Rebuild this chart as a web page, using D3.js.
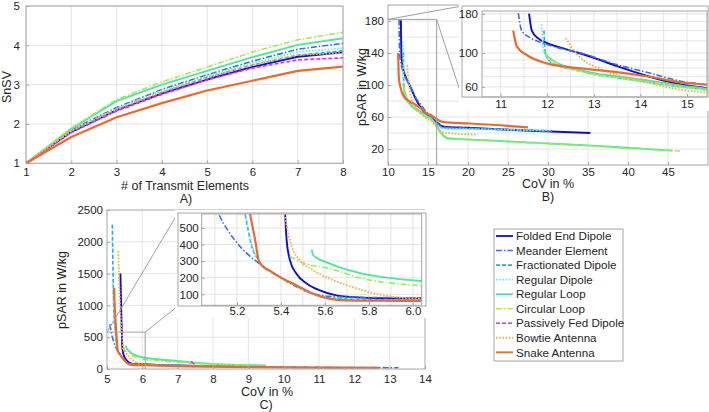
<!DOCTYPE html>
<html><head><meta charset="utf-8">
<script src="https://cdn.jsdelivr.net/npm/d3@7"></script>
<style>
body{margin:0;background:#fff}
svg{display:block}
text{font-family:"Liberation Sans",Arial,Helvetica,sans-serif;fill:#262626}
</style>
</head><body>
<svg id="c" width="709" height="412"></svg>
<script>
// ---------- DATA ----------
const names = ["Folded End Dipole","Meander Element","Fractionated Dipole","Regular Dipole","Regular Loop","Circular Loop","Passively Fed Dipole","Bowtie Antenna","Snake Antenna"];
const transmitElements = [1,2,3,4,5,6,7,8];

// Panel A: SnSV vs # of transmit elements
const snsvFolded   = [1,1.80,2.35,2.78,3.13,3.45,3.71,3.82];
const snsvMeander  = [1,1.85,2.42,2.88,3.25,3.60,3.90,4.05];
const snsvFraction = [1,1.82,2.35,2.80,3.18,3.50,3.75,3.86];
const snsvRegDip   = [1,1.83,2.40,2.85,3.22,3.55,3.83,3.93];
const snsvRegLoop  = [1,1.88,2.58,3.00,3.35,3.70,4.01,4.18];
const snsvCircLoop = [1,1.90,2.62,3.07,3.45,3.83,4.14,4.33];
const snsvPassive  = [1,1.78,2.33,2.75,3.12,3.42,3.63,3.68];
const snsvBowtie   = [1,1.83,2.38,2.82,3.18,3.50,3.76,3.80];
const snsvSnake    = [1,1.67,2.17,2.53,2.85,3.10,3.35,3.46];

// Panel B: [CoV %, pSAR W/kg]
const pB_Folded   = [[11.61,181],[11.67,140],[11.8,125],[12,116],[12.4,106],[13,93],[13.5,82],[14.2,70],[14.9,62],[15.4,59],[16,54],[16.5,50],[17,48],[20,46.5],[25,44],[30,42],[35.3,40]];
const pB_Meander  = [[11.38,182],[11.45,140],[11.63,126],[11.88,117],[12.06,112],[12.77,99],[13.49,84],[14.2,74],[14.91,65],[15.4,62],[16,55],[16.5,49],[17,47.5],[20,46],[25,44],[30.5,42]];
const pB_Fraction = [[11.93,140],[11.96,100],[12.1,86],[12.77,76],[13.49,69],[14.2,64.5],[14.91,60],[15.4,57.5],[16,52],[16.5,48],[17,46],[20,45.5],[25,44.5],[30,43]];
const pB_RegDip   = [[11.88,154],[11.92,105],[12.06,88],[12.77,75],[13.49,68.5],[14.2,63.6],[14.91,59.5],[15.4,57],[16,51],[16.5,47],[17,45.5],[20,45],[25,44],[30.5,43]];
const pB_RegLoop  = [[11.94,102],[12.06,92],[12.77,76.5],[13.49,70.5],[14.2,66],[14.91,61],[15.4,58.5],[16,50],[16.5,42],[17,36],[17.5,33.5],[20,32],[25,29.5],[30,27],[35,24.5],[40,21.5],[45.5,18]];
const pB_CircLoop = [[11.96,98],[12.1,90],[12.77,75],[13.49,69],[14.2,64.5],[14.91,60],[15.4,57],[16,49],[16.5,41],[17,35],[17.5,32.5],[20,31.5],[25,29],[30,26.5],[35,24],[40,21],[46.5,17.5]];
const pB_Passive  = [];
const pB_Bowtie   = [[12.4,125],[12.56,105],[12.77,90],[13.13,79],[13.49,72],[14.2,63.6],[14.91,57.3],[15.4,55],[16,48],[16.5,43],[17,40.5],[18,39.5],[21.2,38]];
const pB_Snake    = [[11.27,140],[11.35,110],[11.56,97],[11.99,85.5],[12.77,79],[13.49,75],[14.2,70],[14.91,64],[15.44,62],[16,58],[16.5,55],[17,53.5],[20,52],[25,49],[27.5,47]];

// Panel C: [CoV %, pSAR W/kg]
const pC_Folded   = [[5.38,1500],[5.39,1250],[5.40,1000],[5.41,760],[5.42,560],[5.426,427],[5.441,306],[5.47,225],[5.517,165],[5.577,124],[5.652,94],[5.77,80],[5.9,76],[6.04,74],[6.5,62],[7,55],[8,45],[9,40]];
const pC_Meander  = [[5.08,705],[5.117,585],[5.19,427],[5.245,347],[5.29,297],[5.395,205],[5.47,145],[5.545,105],[5.62,88],[5.75,82],[5.9,80],[6.04,78],[6.5,65],[7,55],[8,45],[9,38],[10,32],[11,27],[12,23],[13.25,20]];
const pC_Fraction = [[5.15,2270],[5.16,1900],[5.175,1400],[5.19,1000],[5.21,760],[5.237,585],[5.268,387],[5.298,306],[5.366,225],[5.43,180],[5.5,130],[5.56,95],[5.62,78],[5.75,70],[5.9,67],[6.04,65],[6.5,55],[7,48],[8,40],[9,34],[10,30]];
const pC_RegDip   = [[5.17,1350],[5.185,1000],[5.2,820],[5.225,640],[5.245,540],[5.27,390],[5.3,300],[5.366,228],[5.43,178],[5.5,128],[5.56,92],[5.62,76],[5.75,68],[5.9,65],[6.04,63],[6.5,54],[7,47],[8,39],[9.5,32]];
const pC_RegLoop  = [[5.54,370],[5.547,336],[5.62,286],[5.77,225],[5.92,195],[6.04,180],[6.5,150],[7,125],[7.5,100],[8,80],[8.5,68],[9.5,55]];
const pC_CircLoop = [[5.44,330],[5.5,290],[5.62,256],[5.77,195],[5.92,165],[6.04,152],[6.5,125],[7,105],[7.5,88],[8,72],[9,58]];
const pC_Passive  = [[7.38,115],[7.44,88],[7.52,70]];
const pC_Bowtie   = [[5.32,1850],[5.335,1500],[5.36,1150],[5.385,850],[5.405,650],[5.415,585],[5.45,387],[5.486,306],[5.547,245],[5.62,195],[5.70,155],[5.80,114],[5.92,84],[6.04,72],[6.5,60],[7,52],[8,44],[8.8,40]];
const pC_Snake    = [[5.2,1280],[5.21,1100],[5.225,900],[5.245,720],[5.26,585],[5.283,427],[5.3,300],[5.32,265],[5.35,242],[5.395,205],[5.47,155],[5.545,105],[5.62,74],[5.7,64],[5.85,62],[6.04,60],[6.5,52],[7,45],[8,36],[9,30],[10,26],[11,23],[12.7,20]];

// tick values
const ticksA_x = [1,2,3,4,5,6,7,8], ticksA_y = [1,2,3,4,5];
const ticksB_x = [10,15,20,25,30,35,40,45], ticksB_y = [20,60,100,140,180];
const ticksBi_x = [11,12,13,14,15], ticksBi_y = [60,100,180];
const ticksC_x = [5,6,7,8,9,10,11,12,13,14], ticksC_y = [0,500,1000,1500,2000,2500];
const ticksCi_x = [5.2,5.4,5.6,5.8,6.0], ticksCi_y = [100,200,300,400,500];

// ---------- STYLES ----------
const styles = [
  {color:"#0c0cd4", dash:null, w:1.9},
  {color:"#3a6fdc", dash:"6,2,1.5,2", w:1.6},
  {color:"#22ace6", dash:"4,2", w:1.6},
  {color:"#72e4ee", dash:"1.6,1.6", w:1.7},
  {color:"#4ee6a0", dash:null, w:1.9},
  {color:"#a8e65c", dash:"6,2,1.5,2", w:1.6},
  {color:"#e22fe2", dash:"4,2", w:1.6},
  {color:"#f4b241", dash:"1.6,1.6", w:1.9},
  {color:"#ec6a2b", dash:null, w:2.2}
];
const FONT = '"Liberation Sans",Arial,Helvetica,sans-serif';
const svg = d3.select("#c");
const defs = svg.append("defs");

function drawPanel(o){
  const g = svg.append("g");
  const [xl,xr] = o.x.range(), [yb,yt] = o.y.range();
  if(o.bg) g.append("rect").attr("x",o.bg[0]).attr("y",o.bg[1]).attr("width",o.bg[2]).attr("height",o.bg[3]).attr("fill","#fff");
  if(o.frame) g.append("rect").attr("x",o.frame[0]).attr("y",o.frame[1]).attr("width",o.frame[2]).attr("height",o.frame[3]).attr("fill","#fff").attr("stroke","#a6a6a6");
  g.append("g").selectAll("line").data(o.xGrid).join("line")
    .attr("x1",d=>o.x(d)).attr("x2",d=>o.x(d)).attr("y1",yt).attr("y2",yb)
    .attr("stroke","#e4e4e4").attr("stroke-width",1);
  g.append("g").selectAll("line").data(o.yGrid).join("line")
    .attr("y1",d=>o.y(d)).attr("y2",d=>o.y(d)).attr("x1",xl).attr("x2",xr)
    .attr("stroke","#e4e4e4").attr("stroke-width",1);
  defs.append("clipPath").attr("id","clip"+o.id).append("rect")
    .attr("x",xl).attr("y",yt).attr("width",xr-xl).attr("height",yb-yt);
  const line = d3.line().x(d=>o.x(d[0])).y(d=>o.y(d[1])).curve(o.curve||d3.curveLinear);
  g.append("g").attr("clip-path",`url(#clip${o.id})`)
    .selectAll("path").data(o.series.map((s,i)=>({s,i})).filter(d=>d.s.length)).join("path")
    .attr("d",d=>line(d.s)).attr("fill","none")
    .attr("stroke",d=>styles[d.i].color).attr("stroke-width",d=>styles[d.i].w)
    .attr("stroke-dasharray",d=>styles[d.i].dash)
    .attr("stroke-linejoin","round");
  g.append("rect").attr("x",xl).attr("y",yt).attr("width",xr-xl).attr("height",yb-yt)
    .attr("fill","none").attr("stroke","#a6a6a6");
  const ax = g.append("g").attr("transform",`translate(0,${yb})`)
    .call(d3.axisBottom(o.x).tickValues(o.xTicks).tickSize(-3).tickPadding(o.xPad).tickFormat(o.xFmt||d3.format("d")));
  const ay = g.append("g").attr("transform",`translate(${xl},0)`)
    .call(d3.axisLeft(o.y).tickValues(o.yTicks).tickSize(-3).tickPadding(o.yPad).tickFormat(o.yFmt||d3.format("d")));
  [ax,ay].forEach(a=>{
    a.select(".domain").remove();
    a.selectAll(".tick line").attr("stroke","#a6a6a6");
    a.attr("font-family",FONT).attr("font-size",o.fs||11.5);
    a.selectAll("text").attr("fill","#262626");
  });
  return g;
}
function label(txt,x,y,size,rot){
  const t = svg.append("text").attr("x",x).attr("y",y).attr("text-anchor","middle")
    .attr("font-size",size).attr("font-family",FONT).attr("fill","#262626").text(txt);
  if(rot) t.attr("transform",`rotate(-90,${x},${y})`);
}
function gline(x1,y1,x2,y2){
  svg.append("line").attr("x1",x1).attr("y1",y1).attr("x2",x2).attr("y2",y2)
    .attr("stroke","#a0a0a0").attr("stroke-width",1);
}

// ---------- PANEL A ----------
const xA = d3.scaleLinear().domain([1,8]).range([26,343]);
const yA = d3.scaleLinear().domain([1,5]).range([163.3,6]);
const seriesA = [snsvFolded,snsvMeander,snsvFraction,snsvRegDip,snsvRegLoop,snsvCircLoop,snsvPassive,snsvBowtie,snsvSnake]
  .map(arr=>transmitElements.map((e,i)=>[e,arr[i]]));
drawPanel({id:"A",x:xA,y:yA,xTicks:ticksA_x,yTicks:ticksA_y,xGrid:ticksA_x,yGrid:ticksA_y,
  series:seriesA,xPad:5,yPad:6});
label("# of Transmit Elements",185,190,12.5);
label("A)",186,203,12.5);
label("SnSV",11,87,12.5,true);

// ---------- PANEL B ----------
const xB = d3.scaleLinear().domain([10,50]).range([388,708]);
const yB = d3.scaleLinear().domain([0,200]).range([165,5]);
const seriesB = [pB_Folded,pB_Meander,pB_Fraction,pB_RegDip,pB_RegLoop,pB_CircLoop,pB_Passive,pB_Bowtie,pB_Snake];
drawPanel({id:"B",x:xB,y:yB,xTicks:ticksB_x,yTicks:ticksB_y,xGrid:d3.range(15,50,5),yGrid:d3.range(20,200,20),
  series:seriesB,curve:d3.curveMonotoneX,xPad:3,yPad:4});
label("CoV in %",548,188,12.5);
label("B)",548,201,12.5);
label("pSAR in W/kg",366,87,12.5,true);
// zoom box in B
const zB = {x0:10,x1:16.08,y0:0,y1:182};
gline(xB(zB.x0),yB(zB.y1),xB(zB.x1),yB(zB.y1));
gline(xB(zB.x1),yB(zB.y1),xB(zB.x1),yB(zB.y0));
gline(xB(zB.x0),yB(zB.y1),462,6);
gline(xB(zB.x1),yB(zB.y1),462,97);
// inset B
const xBi = d3.scaleLinear().domain([10.6,15.43]).range([482,707]);
const yBi = d3.scaleLog().domain([51.6,188]).range([97,11]);
drawPanel({id:"Bi",x:xBi,y:yBi,xTicks:ticksBi_x,yTicks:ticksBi_y,xGrid:d3.range(11,15.5,0.5),yGrid:[60,70,80,90,100,120,140,160,180],
  series:seriesB,curve:d3.curveMonotoneX,xPad:3,yPad:4,bg:[459,3,250,108],frame:[462,6,246,91]});

// ---------- PANEL C ----------
const xC = d3.scaleLinear().domain([5,14]).range([107,425]);
const yC = d3.scaleLinear().domain([0,2500]).range([369,210]);
const seriesC = [pC_Folded,pC_Meander,pC_Fraction,pC_RegDip,pC_RegLoop,pC_CircLoop,pC_Passive,pC_Bowtie,pC_Snake];
drawPanel({id:"C",x:xC,y:yC,xTicks:ticksC_x,yTicks:ticksC_y,xGrid:d3.range(6,14,1),yGrid:d3.range(500,2500,500),
  series:seriesC,curve:d3.curveMonotoneX,xPad:6,yPad:4});
label("CoV in %",267,396,12.5);
label("C)",266,409,12.5);
label("pSAR in W/kg",66,290,12.5,true);
const zC = {x0:5,x1:6.08,y0:0,y1:580};
gline(xC(zC.x0),yC(zC.y1),xC(zC.x1),yC(zC.y1));
gline(xC(zC.x1),yC(zC.y1),xC(zC.x1),yC(zC.y0));
gline(xC(zC.x0),yC(zC.y1),178,213);
gline(xC(zC.x1),yC(zC.y1),178,306);
const xCi = d3.scaleLinear().domain([5.04,6.04]).range([201.7,421.7]);
const yCi = d3.scaleLinear().domain([34,584]).range([305.3,214]);
drawPanel({id:"Ci",x:xCi,y:yCi,xTicks:ticksCi_x,yTicks:ticksCi_y,xGrid:d3.range(5.1,6.05,0.1),yGrid:ticksCi_y,
  series:seriesC,curve:d3.curveMonotoneX,xPad:2,yPad:3,xFmt:d3.format(".1f"),bg:[175,210,253,108],frame:[178,213,248,93]});

// ---------- LEGEND ----------
const lg = svg.append("g");
lg.append("rect").attr("x",494).attr("y",229).attr("width",129).attr("height",132)
  .attr("fill","#fff").attr("stroke","#a6a6a6");
const ly = d3.scalePoint().domain(names).range([236,352.3]);
const items = lg.selectAll("g").data(names).join("g").attr("transform",d=>`translate(0,${ly(d)})`);
items.append("line").attr("x1",496).attr("x2",513).attr("y1",0).attr("y2",0)
  .attr("stroke",(d,i)=>styles[i].color).attr("stroke-width",(d,i)=>Math.min(styles[i].w,1.8))
  .attr("stroke-dasharray",(d,i)=>styles[i].dash);
items.append("text").attr("x",516).attr("y",4.2).attr("font-size",11.6).attr("font-family",FONT)
  .attr("fill","#262626").text(d=>d);
</script>
</body></html>
